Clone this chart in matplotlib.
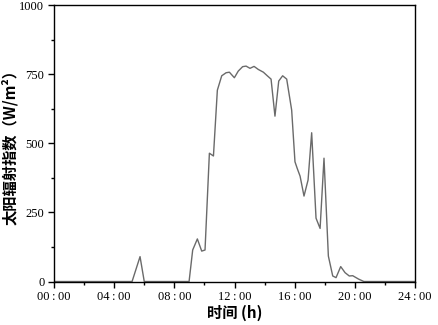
import numpy as np
import matplotlib
matplotlib.use("Agg")
import matplotlib.pyplot as plt
from matplotlib.ticker import MultipleLocator, FuncFormatter

# hours of day and radiation (W/m2)
hours = [0.0, 5.19, 5.72, 6.0, 8.98, 9.22, 9.53, 9.82, 10.04, 10.33, 10.6,
         10.86, 11.15, 11.44, 11.66, 11.99, 12.25, 12.54, 12.77, 13.03, 13.3,
         13.58, 13.92, 14.18, 14.43, 14.69, 14.94, 15.2, 15.47, 15.8, 16.02,
         16.17, 16.36, 16.62, 16.89, 17.13, 17.42, 17.69, 17.95, 18.24, 18.53,
         18.75, 19.06, 19.35, 19.63, 19.86, 20.24, 20.6, 24.0]
radiation = [0, 0, 90, 0, 0, 114, 154, 110, 114, 464, 454,
             692, 744, 755, 757, 737, 761, 777, 779, 771, 778,
             767, 757, 744, 732, 598, 725, 744, 732, 620, 433,
             409, 381, 309, 367, 538, 229, 192, 446, 92, 20,
             14, 54, 32, 20, 21, 9, 0, 0]

yticks = [0, 250, 500, 750, 1000]

plt.rcParams['font.family'] = ['Noto Sans CJK SC', 'DejaVu Sans']

fig = plt.figure(figsize=(4.38, 3.25), dpi=100)
ax = fig.add_axes([0.1233, 0.1338, 0.8242, 0.8508])

ax.plot(hours, radiation, color="#6a6a6a", lw=1.0)

ax.set_xlim(0, 24)
ax.set_ylim(0, 1000)
ax.xaxis.set_major_locator(MultipleLocator(4))
ax.xaxis.set_minor_locator(MultipleLocator(2))
ax.set_yticks(yticks)
ax.yaxis.set_minor_locator(MultipleLocator(125))
ax.xaxis.set_major_formatter(FuncFormatter(lambda v, p: "%02d\u2009:\u200900" % int(v)))

ax.tick_params(which="major", direction="out", length=4, width=1, color="black", pad=3)
ax.tick_params(which="minor", direction="out", length=2.5, width=1, color="black")
for lab in ax.get_xticklabels() + ax.get_yticklabels():
    lab.set_family("Liberation Serif")
    lab.set_fontsize(9)

for s in ax.spines.values():
    s.set_linewidth(1.0)

ax.set_ylabel("太阳辐射指数（W/m²）", fontsize=11, fontweight="bold",
              family=['Noto Sans CJK SC', 'DejaVu Sans'], labelpad=1)
ax.set_xlabel("时间 (h)", fontsize=11, fontweight="bold",
              family=['Noto Sans CJK SC', 'DejaVu Sans'], labelpad=1)

fig.savefig("out.png", dpi=100)
